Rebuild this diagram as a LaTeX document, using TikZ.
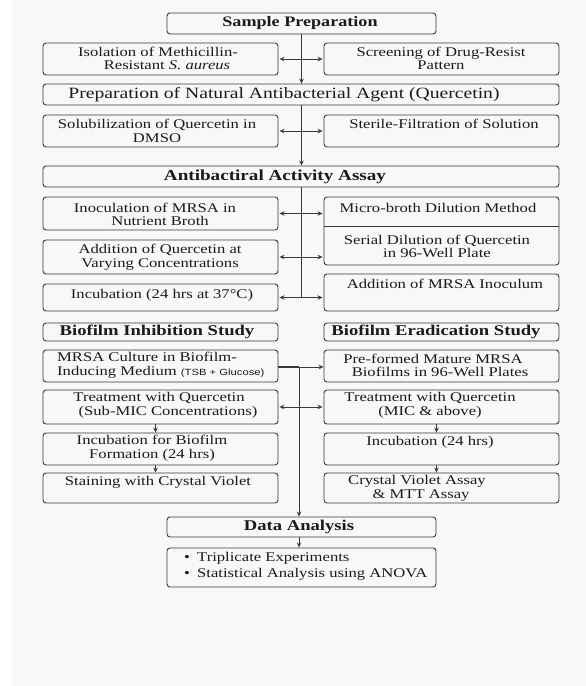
\documentclass[tikz,border=0pt]{standalone}
\usepackage{fontspec}
\setmainfont{Liberation Serif}[FakeStretch=1.25]
\newfontfamily\smsans{Liberation Sans}[FakeStretch=1.25]
\usetikzlibrary{arrows.meta}
\definecolor{bgc}{HTML}{F8F8F8}
\definecolor{linec}{HTML}{3A3A3A}
\definecolor{txtc}{HTML}{1A1A1A}
\newcommand\mkbox[5]{\node[box,minimum width={(#4)-(#2)},minimum height={(#5)-(#3)}] (#1) at ({((#2)+(#4))/2},{((#3)+(#5))/2}) {};}
\begin{document}
\begin{tikzpicture}[x=1pt,y=-1pt,
  box/.style={draw=linec,line width=0.9pt,rounded corners=3pt,inner sep=0pt},
  txt/.style={text=txtc,align=center,inner sep=0pt,font=\fontsize{13.3}{13.7}\selectfont},
  head/.style={text=txtc,align=center,inner sep=0pt,font=\fontsize{14.9}{16}\selectfont\bfseries},
  arr/.style={draw=linec,line width=0.9pt,-{Stealth[length=5pt,width=4.5pt]}},
  dbl/.style={draw=linec,line width=0.9pt,{Stealth[length=5pt,width=4.5pt]}-{Stealth[length=5pt,width=4.5pt]},shorten <=1pt,shorten >=1pt},
  plain/.style={draw=linec,line width=0.9pt}]
\useasboundingbox (0,0) rectangle (586,686);
\fill[bgc] (12,0) rectangle (586,686);
% boxes
\mkbox{sp}{167}{13}{436}{34}
\mkbox{iso}{43}{43}{278}{75}
\mkbox{scr}{324}{43}{559}{75}
\mkbox{prep}{43}{84}{559}{105}
\mkbox{sol}{43}{115}{278}{147}
\mkbox{ster}{324}{115}{559}{147}
\mkbox{aaa}{43}{166}{559}{187}
\mkbox{ino}{43}{197}{278}{230}
\mkbox{mbs}{324}{197}{559}{265}
\mkbox{addq}{43}{240}{278}{274}
\mkbox{inc}{43}{284}{278}{311}
\mkbox{addm}{324}{274}{559}{311}
\mkbox{bis}{43}{323}{278}{341}
\mkbox{bes}{324}{323}{559}{341}
\mkbox{mc}{43}{350}{278}{382}
\mkbox{pf}{324}{350}{559}{382}
\mkbox{trl}{43}{390}{278}{424}
\mkbox{trr}{324}{390}{559}{424}
\mkbox{ibl}{43}{433}{278}{465}
\mkbox{ibr}{324}{433}{559}{465}
\mkbox{stl}{43}{473}{278}{503}
\mkbox{cva}{324}{473}{559}{503}
\mkbox{da}{167}{517}{436}{537}
\mkbox{bl}{167}{548}{436}{587}
\coordinate (div) at (0,226);
\draw[plain] (mbs.west |- div) -- (mbs.east |- div);
% texts
\node[head,font=\fontsize{14.5}{16}\selectfont\bfseries] (t-sp) at (300,23.5) {Sample Preparation};
\node[txt] (t-iso) at (158,58.5) {Isolation of Methicillin-\\\hspace*{18pt}Resistant \textit{S. aureus}};
\node[txt] (t-scr) at (441,58.5) {Screening of Drug-Resist\\Pattern};
\node[txt,font=\fontsize{15.7}{17}\selectfont] (t-prep) at (284,94.5) {Preparation of Natural Antibacterial Agent (Quercetin)};
\node[txt] (t-sol) at (157,131) {Solubilization of Quercetin in\\DMSO};
\node[txt] (t-ster) at (444,124) {Sterile-Filtration of Solution};
\node[head,font=\fontsize{15.3}{16}\selectfont\bfseries] (t-aaa) at (275,176.5) {Antibactiral Activity Assay};
\node[txt] (t-ino) at (155,214.5) {Inoculation of MRSA in\\\hspace*{10pt}Nutrient Broth};
\node[txt] (t-mb) at (438,208) {Micro-broth Dilution Method};
\node[txt] (t-ser) at (437,246.5) {Serial Dilution of Quercetin\\in 96-Well Plate};
\node[txt] (t-addq) at (160,257.5) {Addition of Quercetin at\\Varying Concentrations};
\node[txt] (t-inc) at (162,295) {Incubation (24 hrs at 37°C)};
\node[txt] (t-addm) at (445,284) {Addition of MRSA Inoculum};
\node[head] (t-bis) at (157,332) {Biofilm Inhibition Study};
\node[head] (t-bes) at (436,332) {Biofilm Eradication Study};
\node[txt,align=left,anchor=west] (t-mc) at (57,365.5) {MRSA Culture in Biofilm-\\Inducing Medium {\smsans\fontsize{9}{10}\selectfont(TSB + Glucose)}};
\node[txt] (t-pf) at (433,365.5) {Pre-formed Mature MRSA\\\hspace*{14pt}Biofilms in 96-Well Plates};
\node[txt] (t-trl) at (159,405) {Treatment with Quercetin\\\hspace*{18pt}(Sub-MIC Concentrations)};
\node[txt] (t-trr) at (430,405) {Treatment with Quercetin\\(MIC \& above)};
\node[txt] (t-ibl) at (152,448) {Incubation for Biofilm\\Formation (24 hrs)};
\node[txt] (t-ibr) at (430,442) {Incubation (24 hrs)};
\node[txt] (t-stl) at (158,482) {Staining with Crystal Violet};
\node[txt] (t-cva) at (417,488) {Crystal Violet Assay\\\hspace*{8pt}\& MTT Assay};
\node[head] (t-da) at (299,527) {Data Analysis};
\node[txt,align=left,anchor=west] (t-bl) at (184,566) {\makebox[13pt][l]{\textbullet}Triplicate Experiments\\[2.5pt]\makebox[13pt][l]{\textbullet}Statistical Analysis using ANOVA};
% connectors
\draw[arr] (sp.south) -- (sp.south |- prep.north);
\draw[dbl] (iso.east) -- (scr.west);
\draw[arr] (prep.south -| sp.south) -- (aaa.north -| sp.south);
\draw[dbl] (sol.east) -- (ster.west);
\coordinate (j3) at (sp.south |- inc.east);
\draw[plain] (aaa.south -| sp.south) -- (j3);
\draw[dbl] (ino.east) -- (ino.east -| mbs.west);
\draw[dbl] (addq.east) -- (addq.east -| mbs.west);
\draw[dbl] (inc.east) -- (inc.east -| addm.west);
\coordinate (jb) at (299,367);
\draw[draw=linec,line width=2.2pt] (mc.east |- jb) -- (jb);
\draw[arr] (jb) -- (jb -| pf.west);
\draw[arr] (jb) -- (jb |- da.north);
\draw[dbl] (trl.east) -- (trr.west);
\draw[arr] ([xshift=-5pt]trl.south) -- ([xshift=-5pt]ibl.north);
\draw[arr] ([xshift=-5pt]ibl.south) -- ([xshift=-5pt]stl.north);
\draw[arr] ([xshift=-5pt]trr.south) -- ([xshift=-5pt]ibr.north);
\draw[arr] ([xshift=-5pt]ibr.south) -- ([xshift=-5pt]cva.north);
\draw[arr] (da.south -| jb) -- (bl.north -| jb);
\end{tikzpicture}
\end{document}
